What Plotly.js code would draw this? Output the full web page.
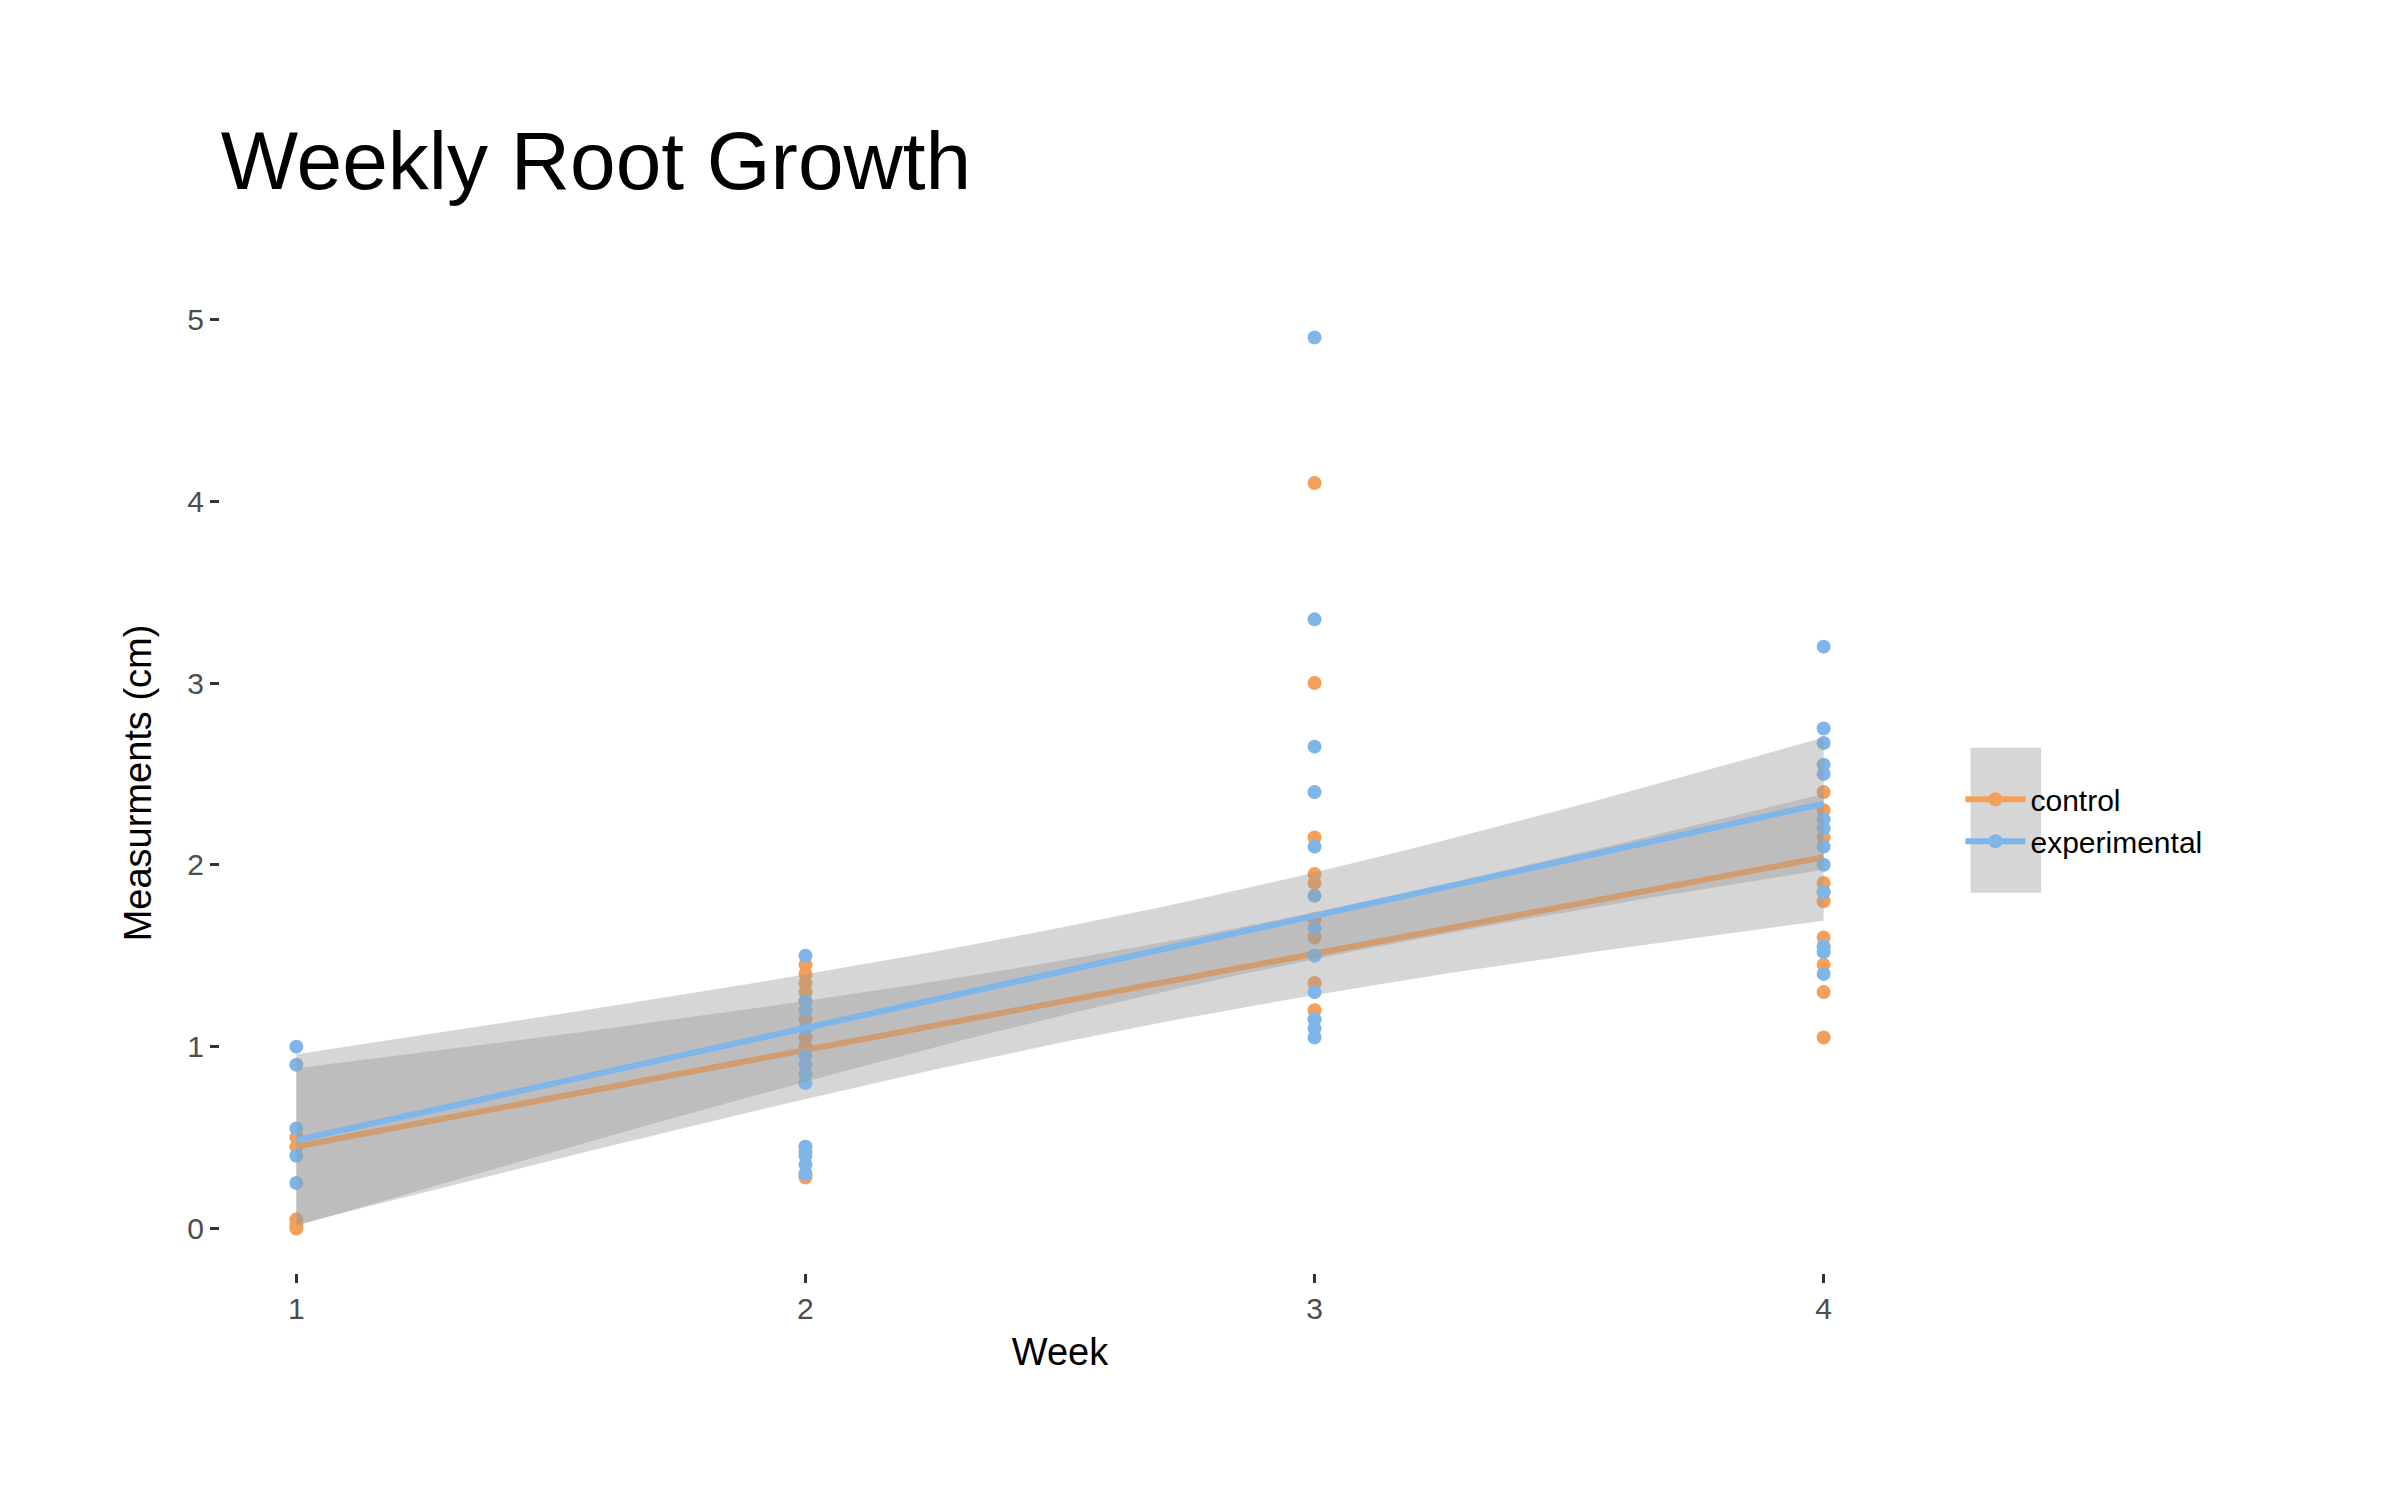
<!DOCTYPE html>
<html>
<head>
<meta charset="utf-8">
<script src="https://cdn.plot.ly/plotly-3.0.1.min.js"></script>
<style>body{margin:0;background:#fff}</style>
</head>
<body>
<div id="plot" style="width:2399px;height:1499px"></div>
<script>
const weeks = [1, 2, 3, 4];
const controlVals = [
  [0.5, 0.45, 0.05, 0.02, 0.0],
  [1.45, 1.4, 1.35, 1.3, 1.15, 1.05, 1.0, 0.45, 0.42, 0.3, 0.28],
  [4.1, 3.0, 2.15, 1.95, 1.9, 1.7, 1.6, 1.35, 1.2, 1.15],
  [2.4, 2.3, 2.15, 1.9, 1.85, 1.8, 1.6, 1.55, 1.45, 1.3, 1.05]
];
const experimentalVals = [
  [1.0, 0.9, 0.55, 0.4, 0.25],
  [1.5, 1.25, 1.2, 1.1, 0.95, 0.9, 0.85, 0.8, 0.45, 0.4, 0.35, 0.3],
  [4.9, 3.35, 2.65, 2.4, 2.1, 1.83, 1.65, 1.5, 1.3, 1.15, 1.1, 1.05],
  [3.2, 2.75, 2.67, 2.55, 2.5, 2.25, 2.2, 2.1, 2.0, 1.85, 1.55, 1.52, 1.4]
];
const groups = ['control', 'experimental'];
const colors = ['#F5A05A', '#7EB6EA'];

function flatten(vals) {
  const x = [], y = [];
  vals.forEach((v, i) => v.forEach(val => { x.push(weeks[i]); y.push(val); }));
  return {x, y};
}

// linear fit with 95% confidence band, like geom_smooth(method = "lm")
function fit(x, y) {
  const n = x.length;
  const mx = x.reduce((a, b) => a + b) / n, my = y.reduce((a, b) => a + b) / n;
  let sxx = 0, sxy = 0;
  x.forEach((xi, i) => { sxx += (xi - mx) ** 2; sxy += (xi - mx) * (y[i] - my); });
  const b = sxy / sxx, a = my - b * mx;
  let sse = 0;
  x.forEach((xi, i) => { sse += (y[i] - a - b * xi) ** 2; });
  const s = Math.sqrt(sse / (n - 2)), t = 2.02;
  const gx = [], gy = [], lo = [], hi = [];
  for (let k = 0; k <= 60; k++) {
    const xv = 1 + 3 * k / 60;
    const yv = a + b * xv;
    const se = s * Math.sqrt(1 / n + (xv - mx) ** 2 / sxx);
    gx.push(xv); gy.push(yv); lo.push(yv - t * se); hi.push(yv + t * se);
  }
  return {gx, gy, lo, hi};
}

const traces = [];
[controlVals, experimentalVals].forEach((vals, g) => {
  const d = flatten(vals);
  const f = fit(d.x, d.y);
  traces.push({x: d.x, y: d.y, mode: 'markers', type: 'scatter', showlegend: false,
    marker: {color: colors[g], size: 14}, hoverinfo: 'y'});
  traces.push({x: f.gx.concat(f.gx.slice().reverse()), y: f.hi.concat(f.lo.slice().reverse()),
    type: 'scatter', mode: 'lines', fill: 'toself', fillcolor: 'rgba(153,153,153,0.4)',
    line: {width: 0}, showlegend: false, hoverinfo: 'skip'});
  traces.push({x: f.gx, y: f.gy, type: 'scatter', mode: 'lines', showlegend: false,
    line: {color: colors[g], width: 6}, hoverinfo: 'skip'});
});
// legend-only entries (line + dot key)
groups.forEach((name, g) => {
  traces.push({x: [null], y: [null], type: 'scatter', mode: 'lines+markers', name: name,
    line: {color: colors[g], width: 6}, marker: {color: colors[g], size: 14}});
});

const layout = {
  width: 2399, height: 1499,
  paper_bgcolor: 'white', plot_bgcolor: 'white',
  font: {family: 'Liberation Sans, Arial, sans-serif', color: '#000'},
  margin: {l: 220, r: 499, t: 293, b: 226},
  title: {text: 'Weekly Root Growth', x: 0.092, xanchor: 'left', y: 0.893, yanchor: 'middle', font: {size: 82}},
  xaxis: {range: [0.85, 4.15], tickvals: weeks, showgrid: false, zeroline: false, showline: false,
    ticks: 'outside', ticklen: 9, tickwidth: 3, tickcolor: '#333',
    tickfont: {size: 30, color: '#4d4d4d'},
    title: {text: 'Week', font: {size: 38}, standoff: 14}},
  yaxis: {range: [-0.245, 5.145], tickvals: [0, 1, 2, 3, 4, 5], showgrid: false, zeroline: false, showline: false,
    ticks: 'outside', ticklen: 9, tickwidth: 3, tickcolor: '#333',
    tickfont: {size: 30, color: '#4d4d4d'},
    title: {text: 'Measurments (cm)', font: {size: 38}, standoff: 24}},
  legend: {x: 1.036, y: 0.462, yanchor: 'middle', xanchor: 'left', bgcolor: 'rgba(0,0,0,0)',
    font: {size: 30}, itemwidth: 60, tracegroupgap: 20},
  shapes: [{type: 'rect', xref: 'paper', yref: 'paper', x0: 1.042, x1: 1.084, y0: 0.388, y1: 0.536,
    fillcolor: 'rgba(153,153,153,0.4)', line: {width: 0}, layer: 'below'}]
};

Plotly.newPlot('plot', traces, layout, {displayModeBar: false});
</script>
</body>
</html>
